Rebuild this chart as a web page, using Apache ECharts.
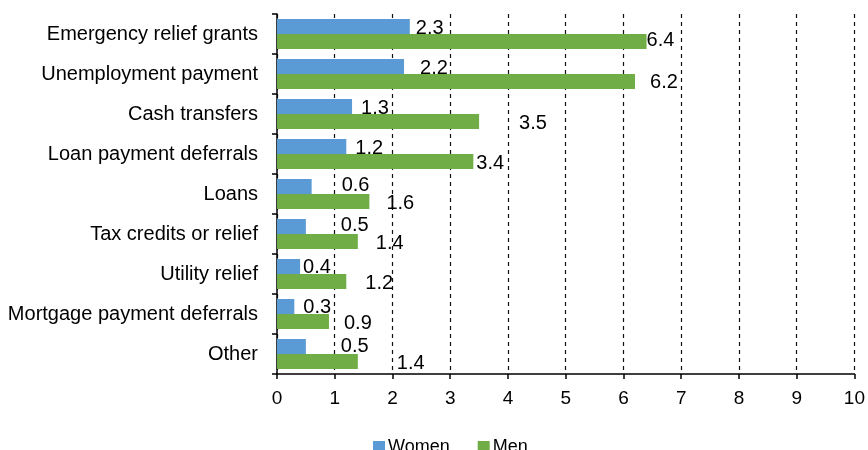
<!DOCTYPE html>
<html>
<head>
<meta charset="utf-8">
<script src="https://cdn.jsdelivr.net/npm/echarts@6/dist/echarts.min.js"></script>
<style>
  html, body { margin: 0; padding: 0; background: #ffffff; }
  #chart { width: 868px; height: 450px; }
</style>
</head>
<body>
<div id="chart"></div>
<script>
// Support measures received, by type (top to bottom)
const categories = [
  'Emergency relief grants',
  'Unemployment payment',
  'Cash transfers',
  'Loan payment deferrals',
  'Loans',
  'Tax credits or relief',
  'Utility relief',
  'Mortgage payment deferrals',
  'Other'
];
const women = [2.3, 2.2, 1.3, 1.2, 0.6, 0.5, 0.4, 0.3, 0.5];
const men   = [6.4, 6.2, 3.5, 3.4, 1.6, 1.4, 1.2, 0.9, 1.4];

// Hand-placed label nudges [dx, dy] in px, one per bar
const womenLabelNudge = [[6,2],[16,2],[9,2],[9,2],[30,-1],[35,-1],[3,1],[9,1],[35,0]];
const menLabelNudge   = [[0,-1],[15,1],[40,2],[3,2],[17,2],[18,2],[19,2],[15,2],[39,2]];

const FONT = '"Liberation Sans", Arial, Helvetica, sans-serif';

function withLabels(values, nudges) {
  return values.map((v, i) => ({
    value: v,
    label: { offset: nudges[i] }
  }));
}

const chart = echarts.init(document.getElementById('chart'), null, { renderer: 'canvas' });

chart.setOption({
  animation: false,
  backgroundColor: '#ffffff',
  textStyle: { fontFamily: FONT },
  grid: { left: 277, right: 11, top: 14, bottom: 76, containLabel: false },
  legend: {
    data: ['Women', 'Men'],
    left: 368,
    top: 433,
    itemWidth: 12,
    itemHeight: 12,
    itemGap: 28,
    icon: 'rect',
    textStyle: { fontFamily: FONT, fontSize: 18, color: '#000', padding: [0, 0, 0, -2] }
  },
  xAxis: {
    type: 'value',
    min: 0,
    max: 10,
    interval: 1,
    axisLine: { show: true, lineStyle: { color: '#000', width: 1.5 } },
    axisTick: { show: true, length: 5, lineStyle: { color: '#000', width: 1.5 } },
    axisLabel: { fontFamily: FONT, fontSize: 19, color: '#000', margin: 15 },
    splitLine: { show: true, lineStyle: { color: '#111', width: 1.2, type: [4, 4] } }
  },
  yAxis: {
    type: 'category',
    data: categories,
    inverse: true,
    axisLine: { show: true, lineStyle: { color: '#000', width: 1.5 } },
    axisTick: { show: true, length: 5, lineStyle: { color: '#000', width: 1.5 } },
    axisLabel: { fontFamily: FONT, fontSize: 20, color: '#000', margin: 19 },
    splitLine: { show: false }
  },
  series: [
    {
      name: 'Women',
      type: 'bar',
      data: withLabels(women, womenLabelNudge),
      barGap: '0%',
      barCategoryGap: '25%',
      itemStyle: { color: '#5B9BD5' },
      label: {
        show: true, position: 'right', distance: 0,
        fontFamily: FONT, fontSize: 20, color: '#000',
        formatter: p => p.value.toFixed(1)
      }
    },
    {
      name: 'Men',
      type: 'bar',
      data: withLabels(men, menLabelNudge),
      barGap: '0%',
      barCategoryGap: '25%',
      itemStyle: { color: '#70AD47' },
      label: {
        show: true, position: 'right', distance: 0,
        fontFamily: FONT, fontSize: 20, color: '#000',
        formatter: p => p.value.toFixed(1)
      }
    }
  ]
});
</script>
</body>
</html>
